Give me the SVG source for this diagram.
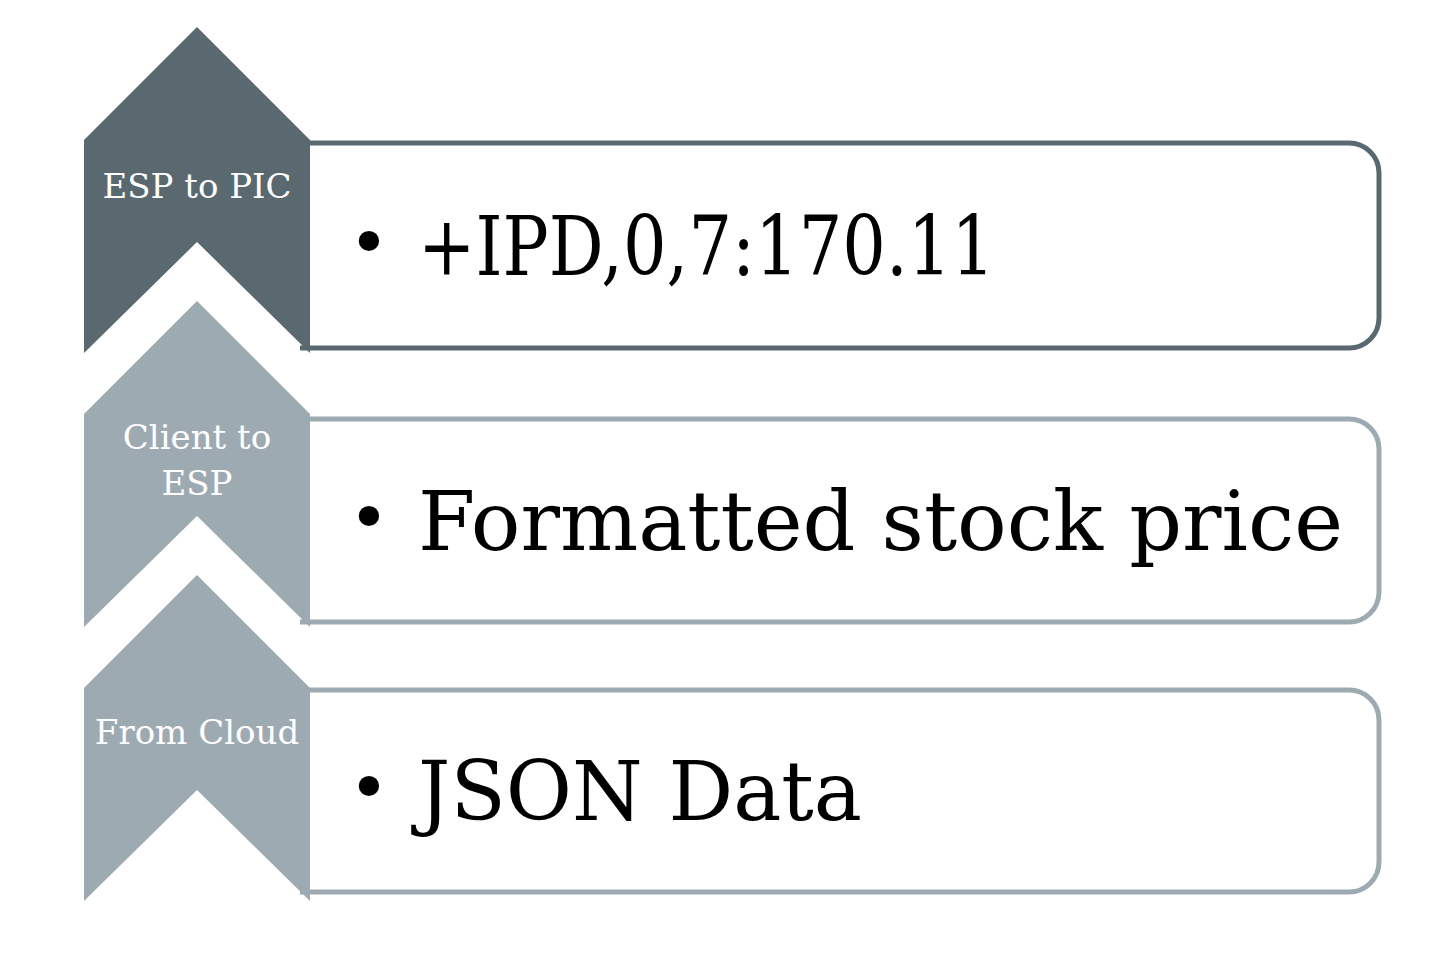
<svg xmlns="http://www.w3.org/2000/svg" width="1452" height="962" viewBox="0 0 1452 962">
  <style>
    .dark { fill: #5a6870; }
    .light { fill: #9eaab2; }
    .box { fill: #ffffff; stroke-width: 5; }
    .box-dark { stroke: #5a6870; }
    .box-light { stroke: #9eaab2; }
    .label { font-family: "DejaVu Serif", "Liberation Serif", serif; font-size: 34px; fill: #ffffff; text-anchor: middle; }
    .item { font-family: "DejaVu Serif", "Liberation Serif", serif; font-size: 82px; fill: #000000; }
    .bullet { font-family: "DejaVu Sans", "Liberation Sans", sans-serif; font-size: 70px; fill: #000000; text-anchor: middle; }
  </style>

  <!-- Step 3: From Cloud (bottom) -->
  <g id="step-from-cloud">
    <path class="box box-light" d="M300,690 H1349 A30,30 0 0 1 1379,720 V862 A30,30 0 0 1 1349,892 H300"/>
    <path class="light" d="M84,688 L197,575 L310,688 L310,901 L197,790 L84,901 Z"/>
    <text class="label" x="197" y="744">From Cloud</text>
    <text class="bullet" x="369" y="812">•</text>
    <text class="item" x="418" y="820" textLength="444" lengthAdjust="spacingAndGlyphs">JSON Data</text>
  </g>

  <!-- Step 2: Client to ESP -->
  <g id="step-client-to-esp">
    <path class="box box-light" d="M300,419 H1349 A30,30 0 0 1 1379,449 V592 A30,30 0 0 1 1349,622 H300"/>
    <path class="light" d="M84,414 L197,301 L310,414 L310,627 L197,516 L84,627 Z"/>
    <text class="label" x="197" y="449">Client to</text>
    <text class="label" x="197" y="495">ESP</text>
    <text class="bullet" x="369" y="542">•</text>
    <text class="item" x="418" y="550" textLength="925" lengthAdjust="spacingAndGlyphs">Formatted stock price</text>
  </g>

  <!-- Step 1: ESP to PIC (top) -->
  <g id="step-esp-to-pic">
    <path class="box box-dark" d="M300,143 H1349 A30,30 0 0 1 1379,173 V318 A30,30 0 0 1 1349,348 H300"/>
    <path class="dark" d="M84,140 L197,27 L310,140 L310,353 L197,242 L84,353 Z"/>
    <text class="label" x="197" y="198">ESP to PIC</text>
    <text class="bullet" x="369" y="267">•</text>
    <text class="item" x="418" y="275" textLength="577" lengthAdjust="spacingAndGlyphs">+IPD,0,7:170.11</text>
  </g>

  <!-- the steps are stacked blocks; no separate connectors -->
  <g id="connectors"/>
</svg>
